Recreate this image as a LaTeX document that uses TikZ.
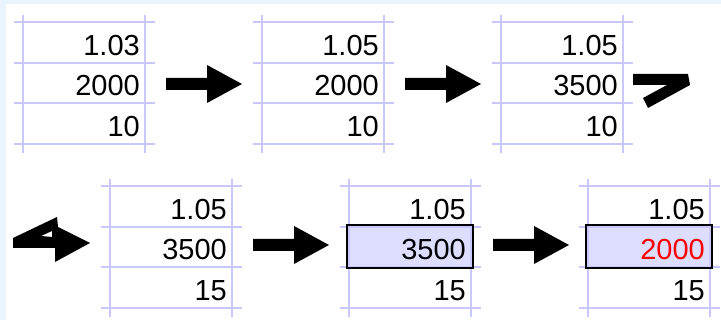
\documentclass[tikz,border=0pt]{standalone}
\usepackage{fontspec}
\setmainfont{Liberation Sans}
\definecolor{gridc}{RGB}{200,200,255}
\definecolor{hl}{RGB}{221,221,255}
\definecolor{bgblue}{RGB}{234,244,255}
\newcommand\sheet[6]{%
  \foreach \dy in {0,41,81,122} \draw[gridline] (#2-9,#3+\dy) -- (#2+132,#3+\dy);
  \draw[gridline] (#2,#3-7) -- (#2,#3+131);
  \draw[gridline] (#2+122,#3-7) -- (#2+122,#3+131);
  \node[cell] (#1a) at (#2+117,#3+34) {#4};
  \node[cell] (#1b) at (#2+117,#3+74) {#5};
  \node[cell] (#1c) at (#2+117,#3+115) {#6};
}
\newcommand\fatarrow[3]{%
  \coordinate (#1) at (#2,#3);
  \fill[blockarrow] ([shift={(0,-6)}]#1) -- ++(41,0) -- ++(0,-13) -- ([shift={(76,0)}]#1)
     -- ([shift={(41,19)}]#1) -- ++(0,-13) -- ([shift={(0,6)}]#1) -- cycle;
}
\begin{document}
\begin{tikzpicture}[x=1pt,y=-1pt,
  gridline/.style={gridc, line width=1.5pt},
  cell/.style={anchor=base east, inner sep=0pt, font=\fontsize{29}{29}\selectfont},
  blockarrow/.style={fill=black}]
\useasboundingbox (0,0) rectangle (721,320);
\fill[bgblue] (0,0) rectangle (721,4);
\fill[bgblue] (0,0) rectangle (6,320);
% row 1
\sheet{s1}{23}{22}{1.03}{2000}{10}
\sheet{s2}{262}{22}{1.05}{2000}{10}
\sheet{s3}{501}{22}{1.05}{3500}{10}
\fatarrow{a1}{166}{84}
\fatarrow{a2}{405}{84}
% bent arrow at end of row 1
\fill[blockarrow] (633,74) -- (688,74) -- (690,85) -- (648,108) -- (643,98) -- (667,85) -- (633,85) -- cycle;
% bent arrow at start of row 2
\fill[blockarrow, even odd rule] (13,238) -- (57,217) -- (58,227) -- (90,243) -- (55,262) -- (55,248) -- (13,248) -- cycle
   (41,236) -- (52,231) -- (52,237) -- cycle;
% row 2
\fill[hl] (347,225) rectangle (473,268);
\fill[hl] (586,225) rectangle (712,268);
\sheet{s4}{110}{186}{1.05}{3500}{15}
\sheet{s5}{349}{186}{1.05}{3500}{15}
\sheet{s6}{588}{186}{1.05}{\textcolor{red}{2000}}{15}
\draw[line width=2pt] (347,225) rectangle (473,268);
\draw[line width=2pt] (586,225) rectangle (712,268);
\fatarrow{a3}{253}{245}
\fatarrow{a4}{493}{245}
\end{tikzpicture}
\end{document}
